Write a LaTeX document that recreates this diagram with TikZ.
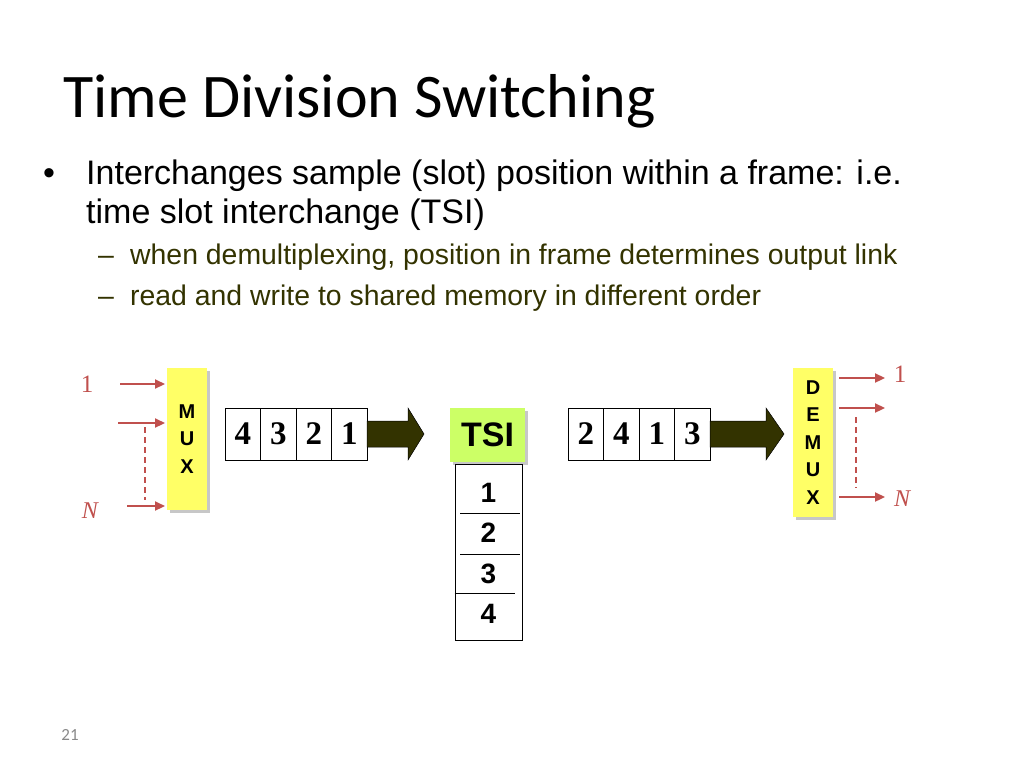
\documentclass[tikz,border=0pt]{standalone}
\usepackage{fontspec}
\setmainfont{Liberation Sans}
\newfontfamily\titlefont{Carlito}
\newfontfamily\serifnum{Liberation Serif}
\usetikzlibrary{arrows.meta,calc,shadows}
\definecolor{lred}{RGB}{192,80,77}
\definecolor{subtext}{HTML}{333300}
\definecolor{muxyellow}{HTML}{FFFF66}
\definecolor{tsigreen}{HTML}{CCFF66}
\definecolor{arrowfill}{HTML}{333300}
\definecolor{pagegray}{HTML}{898989}
\begin{document}
\begin{tikzpicture}[x=1pt,y=-1pt,
  redarr/.style={draw=lred, line width=2.2pt, -{Triangle[length=10pt,width=9pt]}},
  reddash/.style={draw=lred, line width=2.2pt, dash pattern=on 6pt off 4pt},
  cell/.style={draw=black, line width=0.8pt, minimum width=35.5pt, minimum height=52pt, inner sep=0pt, outer sep=0pt, font=\serifnum\bfseries\fontsize{33}{33}\selectfont},
  boxshadow/.style={drop shadow={shadow xshift=3pt, shadow yshift=-3pt, fill=black!22, opacity=1}},
  muxbox/.style={fill=muxyellow, inner sep=0pt, outer sep=0pt, align=center, boxshadow, font=\bfseries\fontsize{20}{27.5}\selectfont},
  blockarrow/.style={fill=arrowfill, draw=black, line width=0.5pt},
  lbl/.style={text=lred, inner sep=0pt},
  bodytext/.style={anchor=base west, inner sep=0pt, font=\fontsize{34}{34}\selectfont},
  subtxt/.style={anchor=base west, inner sep=0pt, text=subtext, font=\fontsize{28.4}{28.4}\selectfont},
  memnum/.style={inner sep=0pt, font=\bfseries\fontsize{28}{28}\selectfont}
]
\useasboundingbox (0,0) rectangle (1024,768);
\fill[white] (0,0) rectangle (1024,768);

% title
\node[anchor=base west, inner sep=0pt, font=\titlefont\fontsize{62}{62}\selectfont] (title) at (63,117) {Time Division Switching};

% bullets
\node[anchor=base, inner sep=0pt, font=\fontsize{34}{34}\selectfont] (bul1) at (49,184) {•};
\node[bodytext] (l1) at (86,184) {Interchanges sample (slot) position within a frame: i.e.};
\node[bodytext] (l2) at (86,223) {time slot interchange (TSI)};
\node[anchor=base, inner sep=0pt, text=subtext, font=\fontsize{28.4}{28.4}\selectfont] (dash1) at (106,264) {–};
\node[subtxt] (s1) at (130,264) {when demultiplexing, position in frame determines output link};
\node[anchor=base, inner sep=0pt, text=subtext, font=\fontsize{28.4}{28.4}\selectfont] (dash2) at (106,305) {–};
\node[subtxt] (s2) at (130,305) {read and write to shared memory in different order};

% MUX
\node[muxbox, minimum width=40pt, minimum height=142pt] (mux) at (187,439) {M\\U\\X};
\coordinate (in1) at (120,384);
\coordinate (in2) at (118,423);
\coordinate (inN) at (127,506);
\draw[redarr, shorten >=2pt] (in1) -- (in1 -| mux.west);
\draw[redarr, shorten >=2pt] (in2) -- (in2 -| mux.west);
\draw[redarr, shorten >=2pt] (inN) -- (inN -| mux.west);
\coordinate (dl1) at (145,427);
\coordinate (dl2) at (145,500);
\draw[reddash] (dl1) -- (dl2);
\node[lbl, font=\serifnum\fontsize{25}{25}\selectfont] (lab1) at (87,384) {1};
\node[lbl, font=\serifnum\itshape\fontsize{24}{24}\selectfont] (labN) at (90,511) {N};

% frame 1
\node[cell] (f11) at (242.75,434) {4};
\node[cell, anchor=west] (f12) at (f11.east) {3};
\node[cell, anchor=west] (f13) at (f12.east) {2};
\node[cell, anchor=west] (f14) at (f13.east) {1};

% block arrow 1
\fill[blockarrow] ($(f14.east)+(0,-13)$) -- ++(41,0) -- ++(0,-13) -- ++(16,26) -- ++(-16,26) -- ++(0,-13) -- ++(-41,0) -- cycle;

% TSI
\node[fill=tsigreen, boxshadow, minimum width=75pt, minimum height=54pt, inner sep=0pt, font=\bfseries\fontsize{34}{34}\selectfont] (tsi) at (487.5,435) {TSI};

% memory
\node[draw=black, line width=1pt, minimum width=67pt, minimum height=176pt, inner sep=0pt] (mem) at (488.5,552) {};
\node[memnum] (m1) at (488.5,493) {1};
\node[memnum] (m2) at (488.5,533) {2};
\node[memnum] (m3) at (488.5,574) {3};
\node[memnum] (m4) at (488.5,614) {4};
\draw[line width=1pt] (460,513) -- (520,513);
\draw[line width=1pt] (460,554) -- (520,554);
\draw[line width=1pt] (mem.west |- 0,593) -- (515,593);

% frame 2
\node[cell] (f21) at (585.75,434) {2};
\node[cell, anchor=west] (f22) at (f21.east) {4};
\node[cell, anchor=west] (f23) at (f22.east) {1};
\node[cell, anchor=west] (f24) at (f23.east) {3};

% block arrow 2
\fill[blockarrow] ($(f24.east)+(0,-13)$) -- ++(56,0) -- ++(0,-13) -- ++(18,26) -- ++(-18,26) -- ++(0,-13) -- ++(-56,0) -- cycle;

% DEMUX
\node[muxbox, minimum width=40pt, minimum height=149pt] (demux) at (813,442.5) {D\\E\\M\\U\\X};
\coordinate (out1) at (885,378);
\coordinate (out2) at (885,408);
\coordinate (outN) at (885,497);
\draw[redarr, shorten <=6pt] (out1 -| demux.east) -- (out1);
\draw[redarr, shorten <=6pt] (out2 -| demux.east) -- (out2);
\draw[redarr, shorten <=6pt] (outN -| demux.east) -- (outN);
\coordinate (dr1) at (856,417);
\coordinate (dr2) at (856,488);
\draw[reddash] (dr1) -- (dr2);
\node[lbl, font=\serifnum\fontsize{25}{25}\selectfont] (rlab1) at (900,374) {1};
\node[lbl, font=\serifnum\itshape\fontsize{24}{24}\selectfont] (rlabN) at (902,499) {N};

% page number
\node[inner sep=0pt, text=pagegray, font=\titlefont\fontsize{17}{17}\selectfont] (page) at (70,735) {21};
\end{tikzpicture}
\end{document}
